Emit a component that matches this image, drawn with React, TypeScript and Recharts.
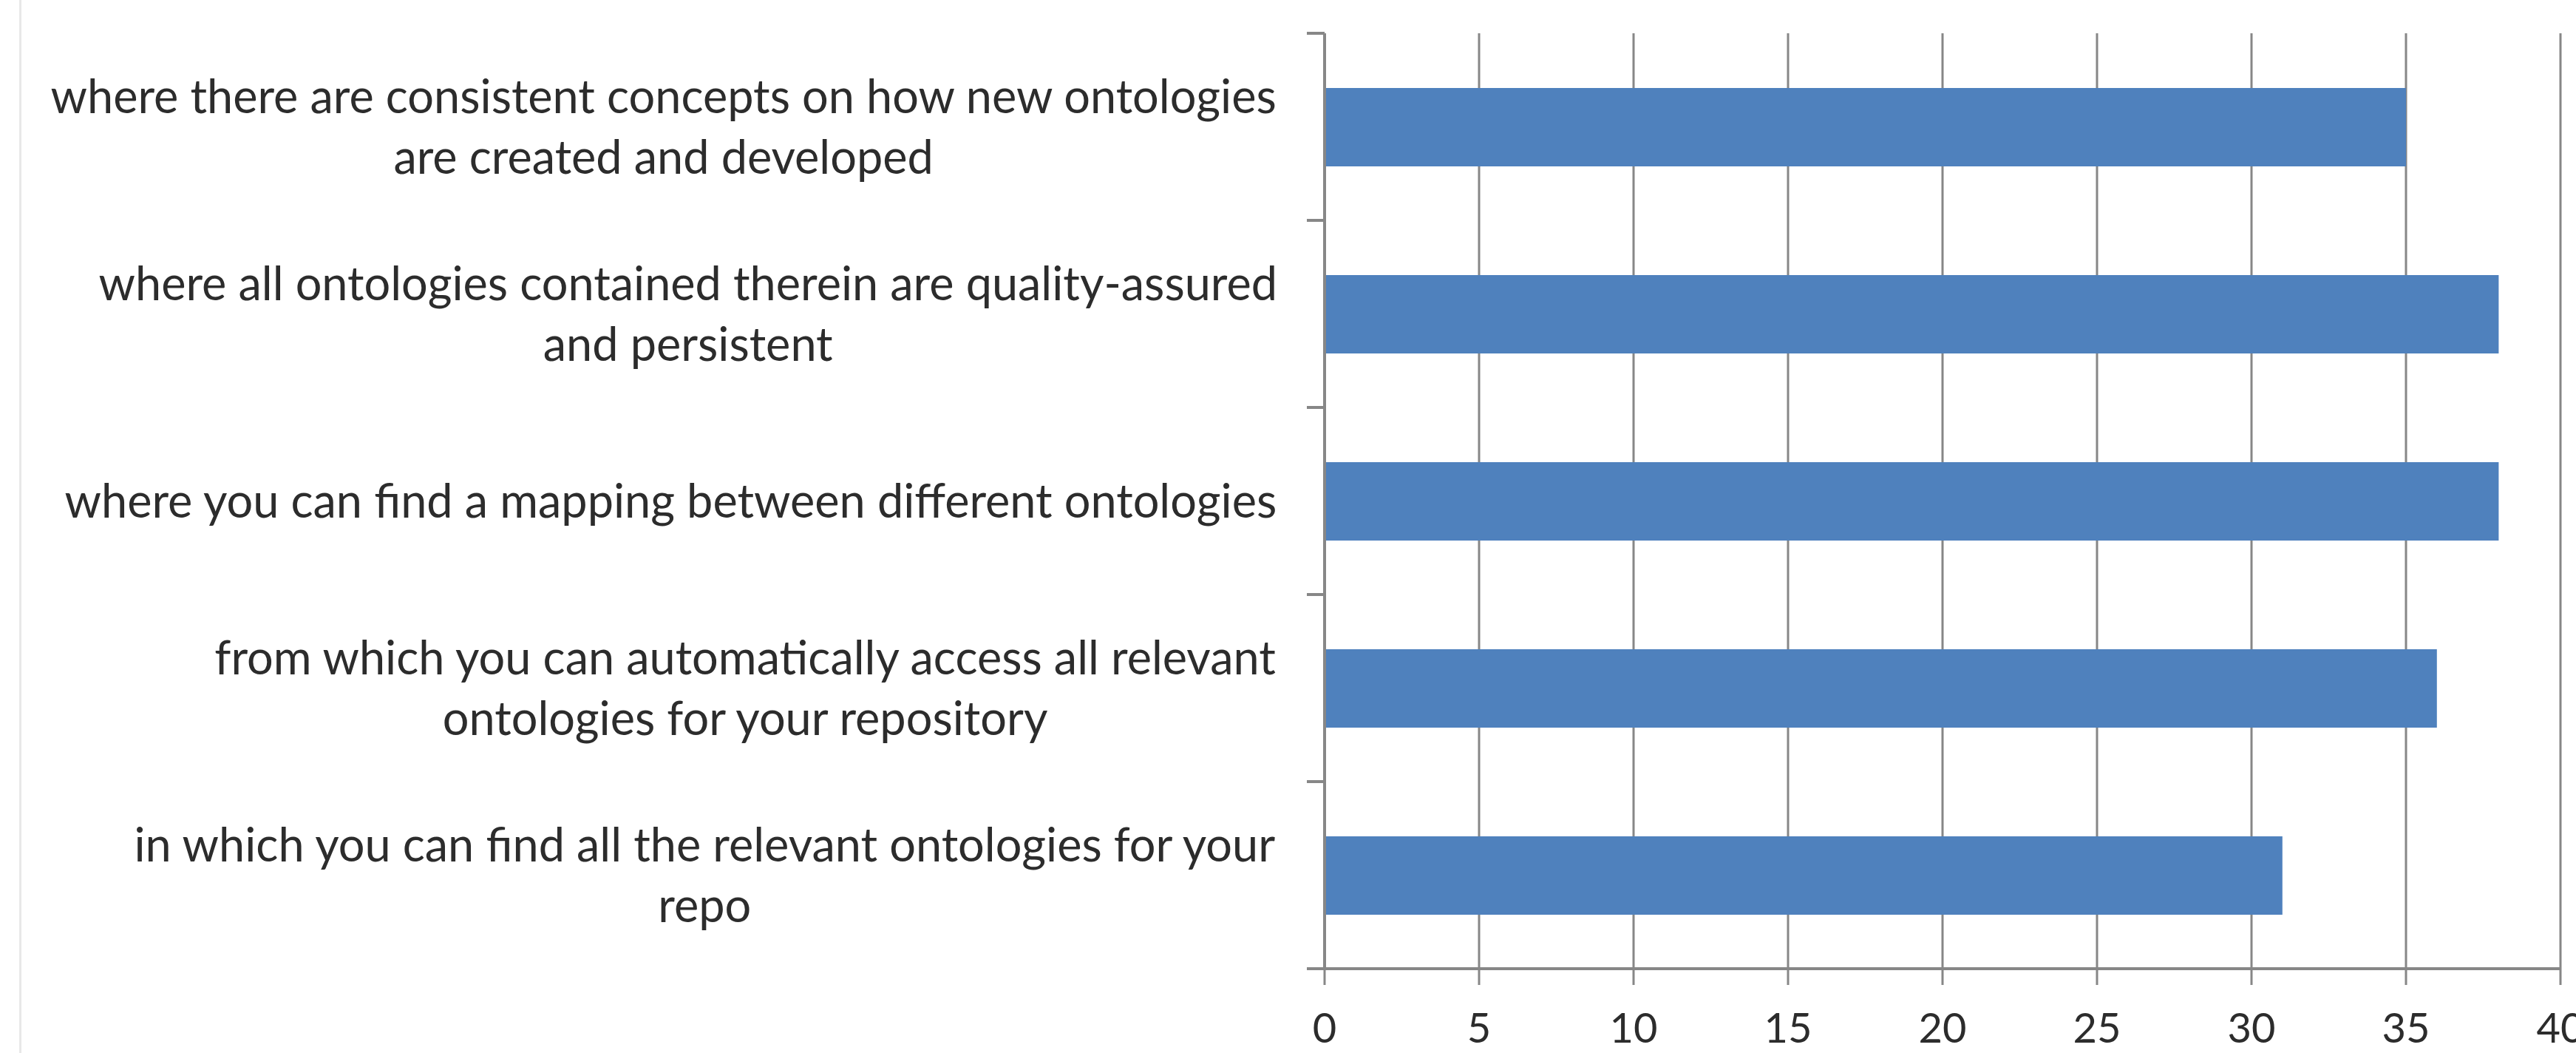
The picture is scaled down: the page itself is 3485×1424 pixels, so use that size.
import { BarChart, Bar, XAxis, YAxis, CartesianGrid } from "recharts";

const categories = [
  "where there are consistent concepts on how new ontologies are created and developed",
  "where all ontologies contained therein are quality-assured and persistent",
  "where you can find a mapping between different ontologies",
  "from which you can automatically access all relevant ontologies for your repository",
  "in which you can find all the relevant ontologies for your repo",
];

// wrapped the way the original chart wraps them
const labelLines = [
  ["where there are consistent concepts on how new ontologies", "are created and developed"],
  ["where all ontologies contained therein are quality-assured", "and persistent"],
  ["where you can find a mapping between different ontologies"],
  ["from which you can automatically access all relevant", "ontologies for your repository"],
  ["in which you can find all the relevant ontologies for your", "repo"],
];

const values = [35, 38, 38, 36, 31];
const xTicks = [0, 5, 10, 15, 20, 25, 30, 35, 40];

const W = 3485;
const H = 1424;
const PLOT_LEFT = 1792;
const PLOT_TOP = 45;
const PLOT_BOTTOM = 1310;
const PLOT_RIGHT = 3464;
const BAND = (PLOT_BOTTOM - PLOT_TOP) / categories.length;
const GRID = "#878787";
const TEXT = "#2c2c2c";
const FONT = "Lato, 'Noto Sans', sans-serif";
const LABEL_SIZE = 63;
const LINE_H = 82;

const data = categories.map((name, i) => ({ name, value: values[i] }));

let ctx: CanvasRenderingContext2D | null = null;
function measure(s: string) {
  if (!ctx) {
    ctx = document.createElement("canvas").getContext("2d");
  }
  if (!ctx) return s.length * LABEL_SIZE * 0.5;
  ctx.font = `${LABEL_SIZE}px Lato`;
  return ctx.measureText(s).width;
}

function CategoryTick(props: any) {
  const { y, index } = props;
  const lines = labelLines[index] || [];
  const widest = Math.max(...lines.map(measure));
  const cx = PLOT_LEFT - 64 - widest / 2;
  const firstBaseline = y - ((lines.length - 1) * LINE_H) / 2 + LABEL_SIZE * 0.36;
  return (
    <g>
      <line x1={PLOT_LEFT - 24} x2={PLOT_LEFT} y1={y - BAND / 2} y2={y - BAND / 2} stroke={GRID} strokeWidth={4} />
      {index === categories.length - 1 && (
        <line x1={PLOT_LEFT - 24} x2={PLOT_LEFT} y1={y + BAND / 2} y2={y + BAND / 2} stroke={GRID} strokeWidth={4} />
      )}
      <text textAnchor="middle" fill={TEXT} fontSize={LABEL_SIZE} fontFamily={FONT}>
        {lines.map((l, i) => (
          <tspan key={i} x={cx} y={firstBaseline + i * LINE_H}>
            {l}
          </tspan>
        ))}
      </text>
    </g>
  );
}

function ValueTick(props: any) {
  const { x, payload } = props;
  return (
    <text x={x} y={1410} textAnchor="middle" fill={TEXT} fontSize={56} fontFamily={FONT}>
      {payload.value}
    </text>
  );
}

export default function App() {
  return (
    <div style={{ position: "absolute", left: 0, top: 0, width: W, height: H, background: "#fff" }}>
      <div style={{ position: "absolute", left: 26, top: 0, width: 3, height: H, background: "#e8e8e8" }} />
      <BarChart
        width={W}
        height={H}
        data={data}
        layout="vertical"
        margin={{ top: PLOT_TOP, right: W - PLOT_RIGHT, bottom: 0, left: 0 }}
      >
        <CartesianGrid horizontal={false} stroke={GRID} strokeWidth={3} />
        <XAxis
          type="number"
          domain={[0, 40]}
          ticks={xTicks}
          height={H - PLOT_BOTTOM}
          tickSize={22}
          tickLine={{ stroke: GRID, strokeWidth: 3 }}
          axisLine={{ stroke: GRID, strokeWidth: 4 }}
          tick={<ValueTick />}
          interval={0}
        />
        <YAxis
          type="category"
          dataKey="name"
          width={PLOT_LEFT}
          tickLine={false}
          axisLine={{ stroke: GRID, strokeWidth: 4 }}
          tick={<CategoryTick />}
          interval={0}
        />
        <Bar dataKey="value" fill="#4f81bd" barSize={106} isAnimationActive={false} />
      </BarChart>
    </div>
  );
}
